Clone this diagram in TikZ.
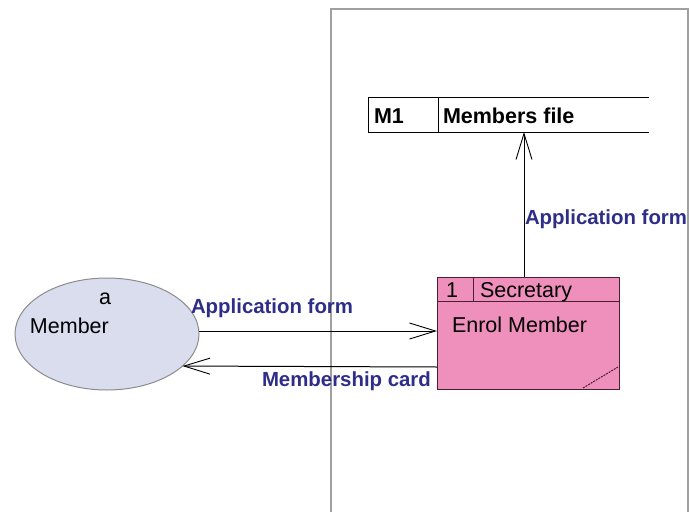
\documentclass[tikz,border=0pt]{standalone}
\usepackage{fontspec}
\setmainfont{Liberation Sans}
\usetikzlibrary{arrows.meta,shapes.geometric}
\definecolor{flowblue}{HTML}{2E2E88}
\definecolor{procfill}{HTML}{EE8FBC}
\definecolor{procline}{HTML}{4A2030}
\definecolor{extfill}{HTML}{D9DDEE}
\definecolor{extline}{HTML}{8C8C8C}
\definecolor{bndline}{HTML}{A0A0A0}
\tikzset{
  txt/.style={inner sep=0pt, outer sep=0pt, anchor=base west, font=\fontsize{21.5}{24}\selectfont},
  flowlbl/.style={txt, text=flowblue, font=\fontsize{20.4}{24}\selectfont\bfseries},
  storelbl/.style={txt, text=black, font=\fontsize{21.5}{24}\selectfont\bfseries},
  flow/.style={line width=1pt, black, -{Straight Barb[length=26pt,width=16pt,line width=0.9pt]}},
  extent/.style={ellipse, draw=extline, fill=extfill, line width=1pt, minimum width=184pt, minimum height=112pt, inner sep=0pt, outer sep=0pt},
  procbox/.style={rectangle, draw=procline, fill=procfill, line width=1pt, minimum width=182pt, minimum height=112pt, inner sep=0pt, outer sep=0pt},
}
\begin{document}
\begin{tikzpicture}[x=1pt,y=-1pt]
\useasboundingbox (0,0) rectangle (689,512);
% system boundary
\draw[bndline, line width=1.2pt] (331,512) -- (331,9) -- (688,9) -- (688,512);
% data store
\draw[black, line width=1pt] (649,97) -- (368,97) -- (368,132) -- (649,132);
\draw[black, line width=1pt] (438,97) -- (438,132);
\coordinate (storebot) at (524,132);
\node[storelbl] (m1) at (374,123) {M1};
\node[storelbl] (mfile) at (443,123) {Members file};
% external entity
\node[extent] (member) at (107,334) {};
\node[txt] (ea) at (99,304) {a};
\node[txt] (em) at (30,333) {Member};
% process
\node[procbox] (proc) at (528,333) {};
\draw[procline, line width=1pt] (437,301) -- (619,301);
\draw[procline, line width=1pt] (473,277) -- (473,301);
\draw[procline, line width=1pt, dash pattern=on 2pt off 1pt] (583,388) -- (618,367);
\node[txt] (pid) at (446,297) {1};
\node[txt] (pwho) at (480,297) {Secretary};
\node[txt] (pname) at (452,332) {Enrol Member};
% flows
\coordinate (f1) at (0,331);
\coordinate (f2) at (0,367);
\coordinate (f3) at (524,0);
\draw[flow] (proc.north -| f3) -- (storebot);
\draw[flow] (member.east |- f1) -- (proc.west |- f1);
\draw[flow] (proc.west |- f2) -- (member.-23);
\node[flowlbl] (l3) at (525,224) {Application form};
\node[flowlbl] (l1) at (191,313) {Application form};
\node[flowlbl] (l2) at (262,386) {Membership card};
\end{tikzpicture}
\end{document}
